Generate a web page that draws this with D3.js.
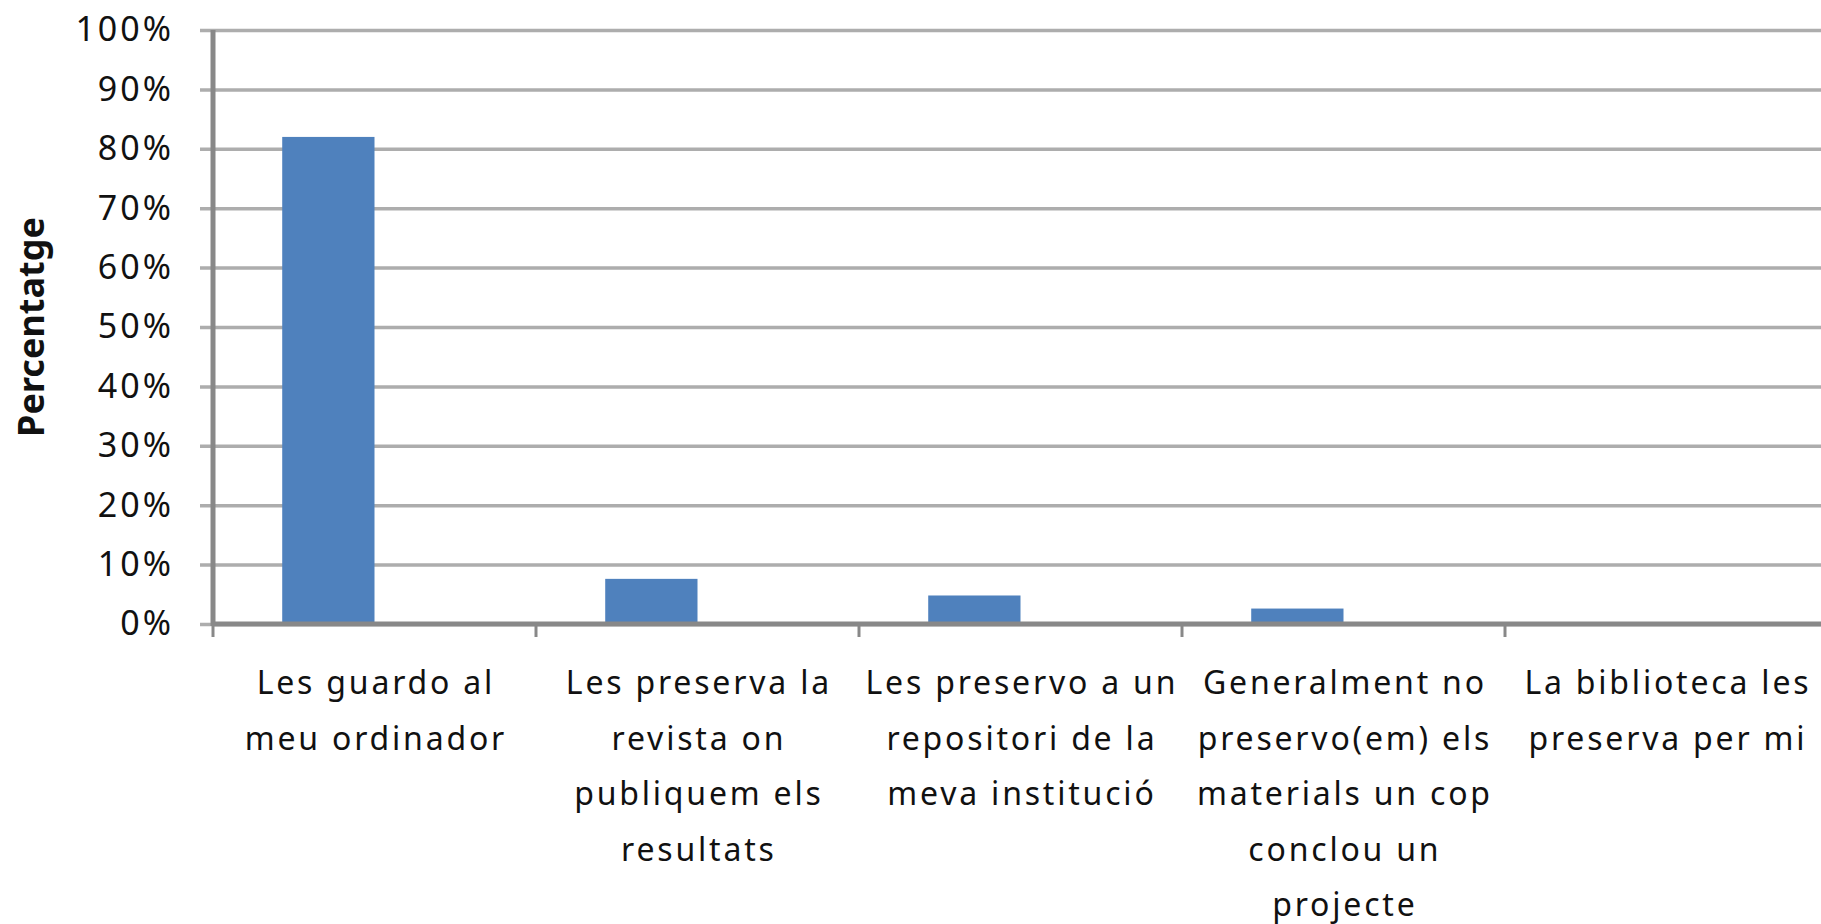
<!DOCTYPE html>
<html>
<head>
<meta charset="utf-8">
<script src="https://cdn.jsdelivr.net/npm/d3@7"></script>
<style>
  body { margin: 0; background: #fff; }
  svg { display: block; }
  text { font-family: "Noto Sans", "Open Sans", sans-serif; fill: #111; }
</style>
</head>
<body>
<script>
const w = 1821;
const h = 924;

const categories = [
  "Les guardo al meu ordinador",
  "Les preserva la revista on publiquem els resultats",
  "Les preservo a un repositori de la meva institució",
  "Generalment no preservo(em) els materials un cop conclou un projecte",
  "La biblioteca les preserva per mi"
];

// wrapped lines as they appear under the axis
const categoryLines = [
  ["Les guardo al", "meu ordinador"],
  ["Les preserva la", "revista on", "publiquem els", "resultats"],
  ["Les preservo a un", "repositori de la", "meva institució"],
  ["Generalment no", "preservo(em) els", "materials un cop", "conclou un", "projecte"],
  ["La biblioteca les", "preserva per mi"]
];

const values = [0.82, 0.076, 0.048, 0.026, 0.003];
// second (empty) series keeps the bars left of centre like the original
const series = ["Percentatge", "buit"];

const yTicks = [0, 0.1, 0.2, 0.3, 0.4, 0.5, 0.6, 0.7, 0.8, 0.9, 1];
const yTitle = "Percentatge";

const plotLeft = 213;
const step = 323;
const plotTop = 30;
const plotBottom = 624;

const svg = d3.select('body').append('svg').attr('width', w).attr('height', h);

const xScale = d3.scaleBand()
  .domain(categories)
  .range([plotLeft, plotLeft + step * categories.length])
  .paddingInner(0).paddingOuter(0);

const xInner = d3.scaleBand()
  .domain(series)
  .range([0, xScale.bandwidth()])
  .paddingInner(0).paddingOuter(0.75);

const yScale = d3.scaleLinear().domain([0, 1]).range([plotBottom, plotTop]);

// horizontal gridlines (they poke out left of the axis as ticks)
const hGrid = d3.axisRight(yScale)
  .tickValues(yTicks)
  .tickFormat('')
  .tickSize(w - 200);

svg.append('g')
  .attr('class', 'grid')
  .attr('transform', 'translate(200,0)')
  .call(hGrid)
  .call(g => g.select('.domain').remove())
  .call(g => g.selectAll('line').attr('stroke', '#adadad').attr('stroke-width', 3.5));

// y labels
const yAxis = d3.axisLeft(yScale)
  .tickValues(yTicks)
  .tickSize(0)
  .tickPadding(0)
  .tickFormat(d3.format('.0%'));

svg.append('g')
  .attr('transform', 'translate(174,0)')
  .call(yAxis)
  .call(g => g.select('.domain').remove())
  .call(g => g.selectAll('text')
    .attr('font-size', 34)
    .attr('letter-spacing', 3)
    .attr('fill', '#111')
    .style('font-family', '"Noto Sans", sans-serif'));

// bars
svg.append('g').selectAll('rect')
  .data(values)
  .enter()
  .append('rect')
  .attr('x', (d, i) => xScale(categories[i]) + xInner(series[0]))
  .attr('y', d => yScale(d))
  .attr('width', xInner.bandwidth())
  .attr('height', d => yScale(0) - yScale(d))
  .attr('fill', '#4f81bd');

// x axis with ticks at category boundaries
const boundaries = d3.range(categories.length + 1).map(i => plotLeft + i * step);

svg.append('line')
  .attr('x1', plotLeft).attr('x2', w)
  .attr('y1', plotBottom).attr('y2', plotBottom)
  .attr('stroke', '#888').attr('stroke-width', 5);

svg.append('g').selectAll('line.tk')
  .data(boundaries)
  .enter()
  .append('line')
  .attr('class', 'tk')
  .attr('x1', d => d).attr('x2', d => d)
  .attr('y1', plotBottom).attr('y2', plotBottom + 13)
  .attr('stroke', '#888').attr('stroke-width', 3);

// y axis line
svg.append('line')
  .attr('x1', plotLeft).attr('x2', plotLeft)
  .attr('y1', plotTop).attr('y2', plotBottom + 2)
  .attr('stroke', '#888').attr('stroke-width', 5);

// category labels
const labels = svg.append('g').selectAll('text')
  .data(categoryLines)
  .enter()
  .append('text')
  .attr('text-anchor', 'middle')
  .attr('font-size', 32)
  .attr('letter-spacing', 2.8)
  .attr('x', (d, i) => xScale(categories[i]) + xScale.bandwidth() / 2 + 1.4)
  .attr('y', 694);

labels.selectAll('tspan')
  .data(d => d)
  .enter()
  .append('tspan')
  .attr('x', function() { return this.parentNode.getAttribute('x'); })
  .attr('dy', (d, i) => i === 0 ? 0 : 55.5)
  .text(d => d);

// y title
svg.append('text')
  .attr('transform', 'translate(44,327) rotate(-90)')
  .attr('text-anchor', 'middle')
  .attr('font-size', 36)
  .attr('font-weight', 'bold')
  .text(yTitle);
</script>
</body>
</html>
